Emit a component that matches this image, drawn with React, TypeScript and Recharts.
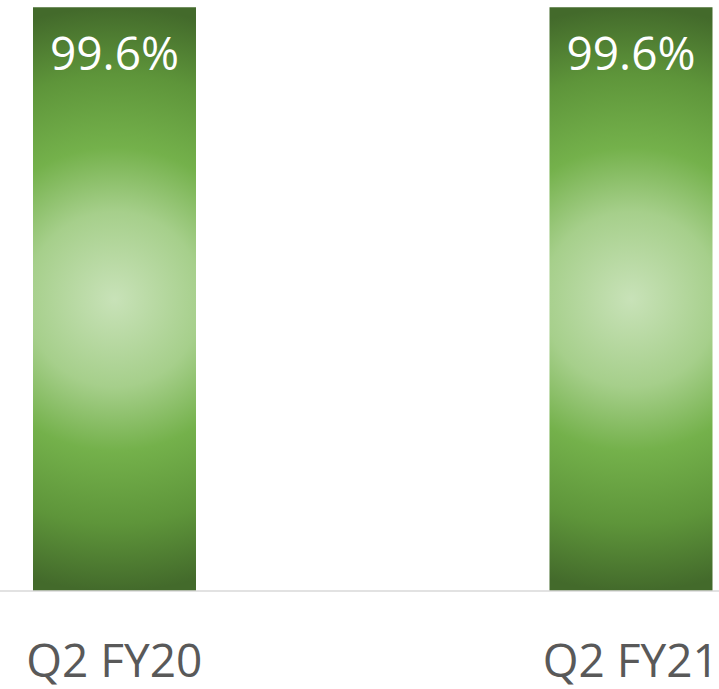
import React from 'react';
import { BarChart, Bar, XAxis, YAxis, LabelList } from 'recharts';

const categories = ['Q2 FY20', 'Q2 FY21'];
const uptime = [99.6, 99.6];

const data = categories.map((quarter, i) => ({ quarter, uptime: uptime[i] }));

const FONT = '"Open Sans", "Noto Sans", sans-serif';

export default function App() {
  return (
    <div
      style={{
        position: 'absolute',
        left: 0,
        top: 0,
        width: 719,
        height: 689,
        overflow: 'hidden',
        background: '#ffffff',
      }}
    >
      <div style={{ position: 'absolute', left: -144, top: 0 }}>
        <BarChart
          width={1033}
          height={689}
          data={data}
          margin={{ top: 5, right: 0, bottom: 0, left: 0 }}
          barSize={163}
        >
          <defs>
            {/* round glow in the middle of each bar, like the Excel path fill */}
            <radialGradient
              id="barGlow"
              cx="0.5"
              cy="0.5"
              r="0.5"
              gradientTransform="translate(0.5 0.5) scale(3.58 1) translate(-0.5 -0.5)"
            >
              <stop offset="0" stopColor="#c8e2b8" />
              <stop offset="0.3" stopColor="#a6cf8b" />
              <stop offset="0.52" stopColor="#74b14b" />
              <stop offset="0.77" stopColor="#5e953a" />
              <stop offset="1" stopColor="#436a2b" />
            </radialGradient>
          </defs>
          <XAxis
            dataKey="quarter"
            height={98}
            axisLine={{ stroke: '#d9d9d9', strokeWidth: 1.5 }}
            tickLine={false}
            tickSize={0}
            tickMargin={53}
            tick={{ fill: '#595959', fontSize: 46, fontFamily: FONT }}
            interval={0}
          />
          <YAxis hide domain={[0, 100]} />
          <Bar dataKey="uptime" fill="url(#barGlow)" isAnimationActive={false}>
            <LabelList
              dataKey="uptime"
              position="insideTop"
              offset={30}
              formatter={(v: number) => `${v}%`}
              style={{ fill: '#ffffff', fontSize: 46, fontFamily: FONT }}
            />
          </Bar>
        </BarChart>
      </div>
    </div>
  );
}
